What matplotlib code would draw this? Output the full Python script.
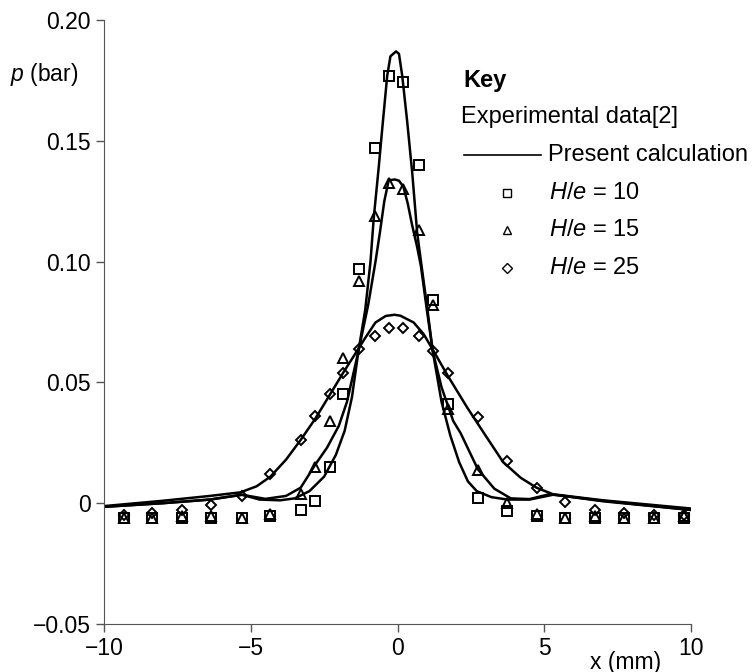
import matplotlib.pyplot as plt
from matplotlib.lines import Line2D

plt.rcParams['font.family'] = ['Liberation Sans', 'DejaVu Sans']
plt.rcParams['mathtext.fontset'] = 'custom'
plt.rcParams['mathtext.it'] = 'Liberation Sans:italic'
plt.rcParams['mathtext.rm'] = 'Liberation Sans'

# experimental points (x in mm, p in bar)
pts_x = [-9.32, -8.35, -7.33, -6.35, -5.30, -4.33, -3.29, -2.82, -2.31, -1.85, -1.30, -0.77,
         -0.30, 0.18, 0.73, 1.22, 1.73, 2.74, 3.72, 4.74, 5.70, 6.72, 7.73, 8.75, 9.77]
sq_p = [-0.006, -0.006, -0.006, -0.006, -0.006, -0.0055, -0.003, 0.001, 0.015, 0.045, 0.097,
        0.147, 0.177, 0.1745, 0.140, 0.084, 0.041, 0.002, -0.0033, -0.0055, -0.006, -0.006,
        -0.006, -0.006, -0.006]
tri_p = [-0.006, -0.006, -0.0055, -0.0055, -0.006, -0.0045, 0.004, 0.015, 0.034, 0.060, 0.092,
         0.119, 0.1327, 0.130, 0.113, 0.082, 0.039, 0.0138, 0.0, -0.0046, -0.006, -0.0055,
         -0.006, -0.006, -0.0055]
dia_p = [-0.005, -0.004, -0.003, -0.0007, 0.003, 0.012, 0.026, 0.036, 0.045, 0.054, 0.064,
         0.069, 0.0727, 0.0724, 0.069, 0.063, 0.0538, 0.0355, 0.0175, 0.0064, 0.0005, -0.003,
         -0.004, -0.005, -0.005]

# present calculation curves
c10_x = [-10, -8, -6.4, -5.3, -4.7, -4.0, -3.5, -3.0, -2.5, -2.1, -1.8, -1.55, -1.33, -1.1,
         -0.92, -0.81, -0.64, -0.52, -0.35, -0.24, -0.05, 0.05, 0.16, 0.33, 0.5, 0.67, 0.8,
         1.0, 1.2, 1.5, 1.8, 2.1, 2.4, 2.7, 3.2, 3.75, 4.5, 5.3, 7.0, 10]
c10_p = [-0.0015, 0.0, 0.0015, 0.0035, 0.0015, 0.0012, 0.002, 0.005, 0.011, 0.020, 0.030,
         0.044, 0.063, 0.080, 0.100, 0.118, 0.139, 0.155, 0.177, 0.185, 0.187, 0.186, 0.177,
         0.158, 0.137, 0.112, 0.100, 0.082, 0.063, 0.042, 0.028, 0.017, 0.009, 0.005, 0.0025,
         0.0015, 0.0015, 0.0035, 0.001, -0.0028]
c15_x = [-10, -8, -6.4, -5.3, -4.5, -3.8, -3.3, -2.8, -2.4, -2.0, -1.72, -1.33, -1.0, -0.75,
         -0.6, -0.45, -0.3, -0.1, 0.05, 0.2, 0.35, 0.5, 0.67, 0.8, 1.0, 1.2, 1.5, 1.9, 2.15,
         2.74, 3.3, 3.86, 4.5, 5.2, 7.0, 10]
c15_p = [-0.0015, 0.0, 0.0015, 0.0035, 0.0018, 0.003, 0.0064, 0.016, 0.023, 0.032, 0.042,
         0.063, 0.082, 0.100, 0.112, 0.125, 0.1336, 0.134, 0.1335, 0.131, 0.124, 0.115, 0.106,
         0.098, 0.080, 0.063, 0.048, 0.034, 0.029, 0.014, 0.006, 0.002, 0.0017, 0.0038, 0.0008,
         -0.0028]
c25_x = [-10, -8, -6.4, -5.35, -4.8, -4.33, -3.8, -3.31, -2.8, -2.3, -1.85, -1.38, -1.09, -0.75,
         -0.4, -0.1, 0.1, 0.55, 0.89, 1.23, 1.7, 2.38, 3.0, 3.6, 4.2, 4.74, 5.3, 7.0, 10]
c25_p = [-0.0012, 0.001, 0.003, 0.0045, 0.007, 0.011, 0.018, 0.026, 0.035, 0.045, 0.054, 0.063,
         0.0686, 0.0748, 0.0775, 0.078, 0.0776, 0.0748, 0.070, 0.063, 0.053, 0.0395, 0.028,
         0.017, 0.0105, 0.0064, 0.0037, 0.0012, -0.0022]

fig = plt.figure(figsize=(7.55, 6.72), dpi=100)
ax = fig.add_axes([104 / 755, 1 - 624 / 672, (691 - 104) / 755, (624 - 20) / 672])

for cx, cp in [(c10_x, c10_p), (c15_x, c15_p), (c25_x, c25_p)]:
    ax.plot(cx, cp, color='black', lw=1.8, solid_joinstyle='round')

mk = dict(ls='none', mfc='none', mec='black', mew=1.4)
ax.plot(pts_x, sq_p, marker='s', ms=6.5, **mk)
ax.plot(pts_x, tri_p, marker='^', ms=6.5, **mk)
ax.plot(pts_x, dia_p, marker='D', ms=5.5, **mk)

ax.set_xlim(-10, 10)
ax.set_ylim(-0.05, 0.20)
ax.set_xticks([-10, -5, 0, 5, 10])
ax.set_yticks([-0.05, 0, 0.05, 0.10, 0.15, 0.20])
ax.set_yticklabels(['\u22120.05', '0', '0.05', '0.10', '0.15', '0.20'])
ax.tick_params(labelsize=16.5, direction='out', length=6, width=1, color='#555555')
for s in ['top', 'right']:
    ax.spines[s].set_visible(False)
for s in ['left', 'bottom']:
    ax.spines[s].set_color('#555555')


def fx(px):
    return px / 755


def fy(py):
    return 1 - py / 672


fs = 17
fig.text(fx(10), fy(75), '$p$ (bar)', fontsize=16.5, va='center')
fig.text(fx(590), fy(662), 'x (mm)', fontsize=16.5, va='center')

# key
fig.text(fx(463), fy(81), 'Key', fontsize=fs, fontweight='bold', va='center')
fig.text(fx(461), fy(117), 'Experimental data[2]', fontsize=fs, va='center')
fig.add_artist(Line2D([fx(464), fx(541)], [fy(155), fy(155)], color='black', lw=1.2,
                      transform=fig.transFigure))
fig.text(fx(548), fy(155), 'Present calculation', fontsize=fs, va='center')
for i, (m, lab) in enumerate([('s', '10'), ('^', '15'), ('D', '25')]):
    yy = fy(193 + i * 37.5)
    fig.add_artist(Line2D([fx(507)], [yy], marker=m, ms=6 if m != 'D' else 5.5,
                          mfc='none', mec='black', mew=1.0, ls='none',
                          transform=fig.transFigure))
    fig.text(fx(549), yy, '$H/e$ = ' + lab, fontsize=fs, va='center')

fig.savefig('out.png', dpi=100)
